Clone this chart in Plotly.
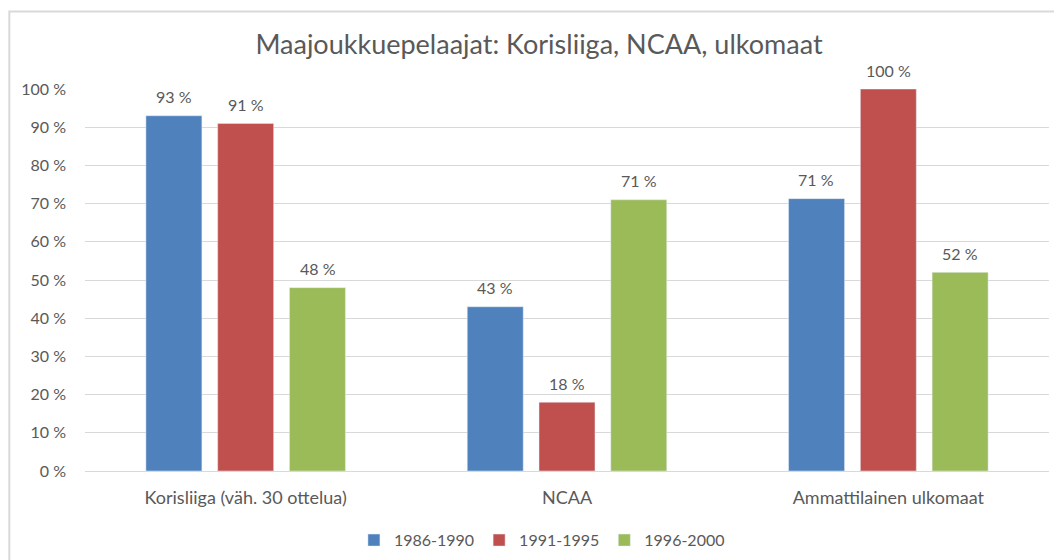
import plotly.graph_objects as go

categories = ["Korisliiga (väh. 30 ottelua)", "NCAA", "Ammattilainen ulkomaat"]
series_names = ["1986-1990", "1991-1995", "1996-2000"]
values_1986 = [93, 43, 71.3]
values_1991 = [91, 18, 100]
values_1996 = [48, 71, 52]
tick_values = [0, 10, 20, 30, 40, 50, 60, 70, 80, 90, 100]
tick_labels = ["0 %", "10 %", "20 %", "30 %", "40 %", "50 %",
               "60 %", "70 %", "80 %", "90 %", "100 %"]

colors = ["#4f81bd", "#c0504d", "#9bbb59"]
grey = "#595959"
font_family = "Lato, 'Open Sans', sans-serif"

fig = go.Figure()
all_series = [values_1986, values_1991, values_1996]
for i, (name, vals, col) in enumerate(zip(series_names, all_series, colors)):
    fig.add_trace(
        go.Bar(x=categories, y=vals, name=name, marker_color=col)
    )
    # data labels, placed a bit higher than plotly's "outside" text
    for cat, v in zip(categories, vals):
        fig.add_annotation(
            x=cat, y=v, xref="x", yref="y",
            text="{:.0f} %".format(v),
            showarrow=False,
            xshift=(i - 1) * 72,
            yshift=19,
            font=dict(size=16, color=grey, family=font_family),
        )

# chart border (page adds 8px body margin, so plot coords are shifted)
fig.add_shape(
    type="rect", xref="paper", yref="paper",
    x0=-0.0785, x1=1.05, y0=-0.3, y1=1.203,
    line=dict(color="#d9d9d9", width=2), layer="below",
)

fig.update_layout(
    width=1062,
    height=560,
    margin=dict(l=77, r=21, t=81, b=96),
    paper_bgcolor="white",
    plot_bgcolor="white",
    barmode="group",
    bargap=0.33,
    bargroupgap=0.22,
    font=dict(family=font_family, color=grey, size=16),
    title=dict(
        text="Maajoukkuepelaajat: Korisliiga, NCAA, ulkomaat",
        x=0.5, xref="container", xanchor="center",
        y=0.934, yanchor="middle",
        font=dict(size=27, color=grey, family=font_family),
    ),
    legend=dict(
        orientation="h", x=0.474, xanchor="center", y=-0.178, yanchor="middle",
        font=dict(size=16, color=grey), traceorder="normal",
    ),
    showlegend=True,
)

fig.update_yaxes(
    range=[0, 100],
    tickvals=tick_values,
    ticktext=tick_labels,
    showgrid=True,
    gridcolor="#d9d9d9",
    gridwidth=1,
    zeroline=False,
    showline=False,
    ticklabelstandoff=18,
    tickfont=dict(size=16, color=grey),
)
fig.update_xaxes(
    showline=True,
    linecolor="#d9d9d9",
    linewidth=1,
    ticks="",
    ticklabelstandoff=10,
    tickfont=dict(size=18, color=grey),
)

fig.write_html("out.html")
